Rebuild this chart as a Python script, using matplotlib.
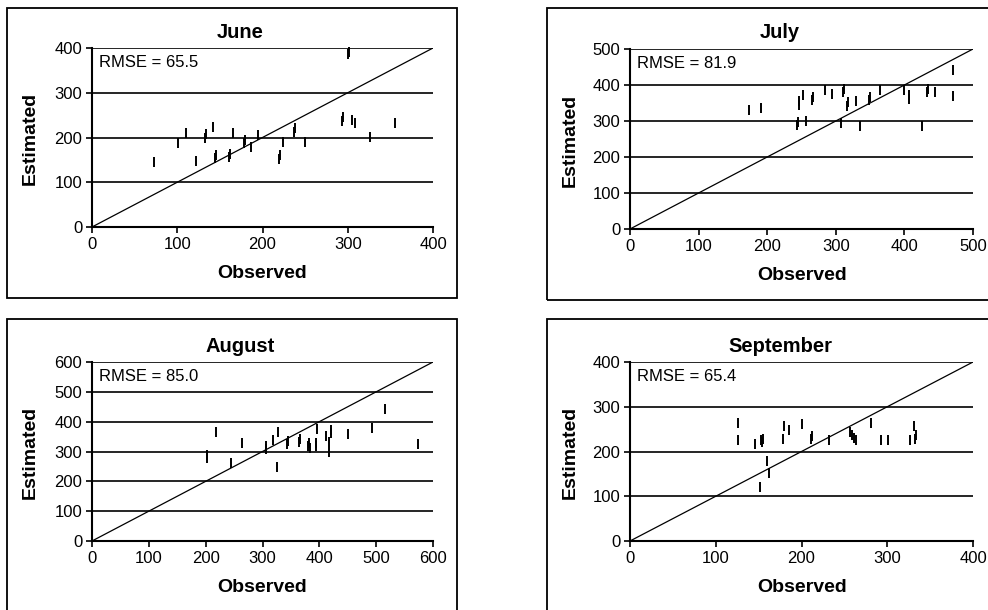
import numpy as np
import matplotlib
matplotlib.use("Agg")
import matplotlib.pyplot as plt
from matplotlib.patches import Rectangle

plt.rcParams['font.family'] = ['Liberation Sans', 'DejaVu Sans']

W, H = 988, 610

# data (observed, estimated)
months = ["June", "July", "August", "September"]
rmse = ["65.5", "81.9", "85.0", "65.4"]
axis_max = [400, 500, 600, 400]

june_obs = [73, 101, 110, 122, 133, 134, 142, 144, 145, 161, 162, 165, 178, 179, 186,
            195, 219, 220, 224, 237, 238, 250, 293, 294, 300, 301, 305, 308, 326, 356]
june_est = [146, 188, 209, 148, 198, 207, 223, 155, 160, 156, 164, 211, 188, 195, 179,
            206, 153, 160, 191, 213, 222, 191, 237, 245, 386, 392, 240, 232, 202, 233]

july_obs = [173, 191, 244, 245, 246, 247, 252, 257, 266, 267, 284, 295, 308, 311, 312,
            317, 318, 330, 336, 349, 350, 365, 400, 406, 407, 425, 433, 434, 444, 471, 471]
july_est = [331, 336, 288, 298, 345, 355, 373, 299, 357, 366, 385, 376, 294, 380, 389,
            343, 352, 355, 285, 358, 367, 387, 387, 362, 372, 285, 380, 388, 380, 443, 369]

aug_obs = [202, 203, 218, 244, 264, 306, 307, 319, 325, 328, 343, 344, 364, 366, 380,
           381, 383, 394, 395, 396, 411, 417, 417, 420, 421, 450, 492, 515, 574]
aug_est = [277, 288, 365, 263, 328, 307, 318, 337, 248, 365, 325, 335, 332, 342, 320,
           330, 312, 320, 330, 376, 351, 332, 298, 362, 372, 360, 379, 441, 326]

sep_obs = [126, 126, 146, 152, 153, 154, 155, 160, 162, 179, 180, 186, 201, 211, 212,
           232, 257, 259, 261, 263, 281, 293, 301, 327, 332, 333, 331]
sep_est = [264, 225, 216, 121, 226, 222, 229, 178, 152, 229, 257, 247, 261, 227, 235,
           225, 243, 237, 230, 225, 264, 225, 225, 225, 228, 236, 258]

obs_all = [june_obs, july_obs, aug_obs, sep_obs]
est_all = [june_est, july_est, aug_est, sep_est]

# layout in pixels (left, right, top, bottom)
axes_px = [(92, 433, 48, 227), (630, 973, 49, 229), (92, 433, 362, 541), (630, 973, 362, 541)]
box_px = [(7, 457, 8, 298), (547, 995, 8, 300), (7, 457, 319, 620), (547, 995, 319, 620)]
title_px = [(240, 33), (780, 33), (240, 347), (780, 347)]
ylab_px = [(30, 138), (570, 140), (30, 452), (570, 452)]
xlab_px = [(262, 274), (802, 276), (262, 587), (802, 587)]

fig = plt.figure(figsize=(W / 100, H / 100), dpi=100)

def fx(x):
    return x / W

def fy(y):
    return 1 - y / H

for i in range(4):
    bl, br, bt, bb = box_px[i]
    fig.patches.append(Rectangle((fx(bl), fy(bb)), fx(br - bl), (bb - bt) / H,
                                 transform=fig.transFigure, fill=False,
                                 edgecolor='black', linewidth=1.3))

    l, r, t, b = axes_px[i]
    ax = fig.add_axes([fx(l), fy(b), fx(r - l), (b - t) / H])
    m = axis_max[i]
    ax.set_xlim(0, m)
    ax.set_ylim(0, m)
    ticks = np.arange(0, m + 1, 100)
    ax.set_xticks(ticks)
    ax.set_yticks(ticks)
    for v in ticks[1:]:
        ax.axhline(v, color='black', linewidth=1.2, zorder=1)
    ax.plot([0, m], [0, m], color='black', linewidth=0.9, zorder=2)
    ax.plot(obs_all[i], est_all[i], linestyle='none', marker='|', markersize=7.5,
            markeredgewidth=1.4, color='black', zorder=3, clip_on=False)

    for s in ['top', 'right']:
        ax.spines[s].set_visible(False)
    for s in ['left', 'bottom']:
        ax.spines[s].set_linewidth(1.5)
    ax.tick_params(direction='out', length=4, width=1.2, labelsize=12, pad=3)
    ax.text(0.02, 0.92, "RMSE = " + rmse[i], transform=ax.transAxes,
            fontsize=12, va='center', ha='left')

    fig.text(fx(title_px[i][0]), fy(title_px[i][1]), months[i], fontsize=14.5,
             fontweight='bold', ha='center', va='center')
    fig.text(fx(ylab_px[i][0]), fy(ylab_px[i][1]), "Estimated", fontsize=14,
             fontweight='bold', ha='center', va='center', rotation=90)
    fig.text(fx(xlab_px[i][0]), fy(xlab_px[i][1]), "Observed", fontsize=14,
             fontweight='bold', ha='center', va='center')

fig.savefig("out.png", dpi=100)
